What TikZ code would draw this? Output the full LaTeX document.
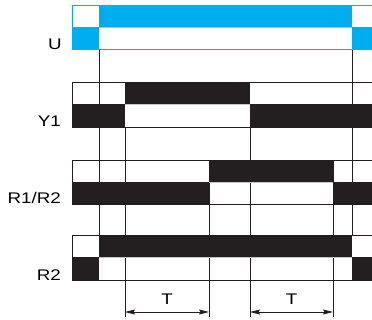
\documentclass[tikz,border=0pt]{standalone}
\usepackage{fontspec}
\setmainfont{Liberation Sans}
\newfontfamily\sigfont[FakeStretch=1.22]{Liberation Sans}
\usetikzlibrary{positioning,calc,arrows.meta}
\definecolor{sigblue}{HTML}{00AEEF}
\definecolor{sigblack}{HTML}{231F20}

\begin{document}
\begin{tikzpicture}[x=1pt, y=-1pt,
  markline/.style={draw=sigblack, line width=0.9pt},
  midline/.style={draw=gray!45, line width=0.6pt},
  lvlblack/.style={fill=sigblack},
  lvlblue/.style={fill=sigblue},
  bandframe/.style={draw=sigblack, line width=0.8pt},
  sig/.style={anchor=base east, inner sep=0pt, font=\sigfont\fontsize{15.4}{15}\selectfont},
  tspan/.style={draw=sigblack, line width=0.8pt, {Stealth[length=10pt,width=5pt,inset=1.5pt]}-{Stealth[length=10pt,width=5pt,inset=1.5pt]}}]
  \useasboundingbox (0,0) rectangle (372,320);

  % time marks
  \draw[markline] (99,49) -- (99,235);
  \draw[markline] (352,49) -- (352,235);
  \draw[markline] (125,127) -- (125,317);
  \draw[markline] (250,127) -- (250,317);
  \draw[markline] (209,160) -- (209,317);
  \draw[markline] (333,160) -- (333,317);

  % U
  \draw[draw=sigblue!50, line width=0.6pt] (72,27) -- (372,27);
  \fill[lvlblue] (99,5) rectangle (352,27);
  \fill[lvlblue] (72,27) rectangle (99,49);
  \fill[lvlblue] (352,27) rectangle (372,49);
  \draw[draw=sigblue, line width=0.8pt] (372,5) -- (72,5) -- (72,49) -- (372,49);
  \node[sig] (u) at (62,50) {U};

  % Y1
  \draw[midline] (72,104) -- (372,104);
  \fill[lvlblack] (125,82) rectangle (250,104);
  \fill[lvlblack] (72,104) rectangle (125,127);
  \fill[lvlblack] (250,104) rectangle (372,127);
  \draw[bandframe] (372,82) -- (72,82) -- (72,127) -- (372,127);
  \node[sig] (y1) at (61,127) {Y1};

  % R1/R2
  \draw[midline] (72,182) -- (372,182);
  \fill[lvlblack] (72,182) rectangle (209,204);
  \fill[lvlblack] (209,160) rectangle (333,182);
  \fill[lvlblack] (333,182) rectangle (372,204);
  \draw[bandframe] (372,160) -- (72,160) -- (72,204) -- (372,204);
  \node[sig] (r12) at (61,204) {R1/R2};

  % R2
  \draw[midline] (72,257) -- (372,257);
  \fill[lvlblack] (72,257) rectangle (99,280);
  \fill[lvlblack] (99,235) rectangle (352,257);
  \fill[lvlblack] (352,257) rectangle (372,280);
  \draw[bandframe] (372,235) -- (72,235) -- (72,280) -- (372,280);
  \node[sig] (r2) at (61,281) {R2};

  % delay T
  \coordinate (a1) at (125,312);
  \coordinate (b1) at (209,312);
  \coordinate (a2) at (250,312);
  \coordinate (b2) at (333,312);
  \draw[tspan] (a1) -- (b1);
  \draw[tspan] (a2) -- (b2);
  \node[above=7pt of $(a1)!0.5!(b1)$, inner sep=0pt, font=\sigfont\fontsize{15.4}{15}\selectfont] (t1) {T};
  \node[above=7pt of $(a2)!0.5!(b2)$, inner sep=0pt, font=\sigfont\fontsize{15.4}{15}\selectfont] (t2) {T};
\end{tikzpicture}
\end{document}
